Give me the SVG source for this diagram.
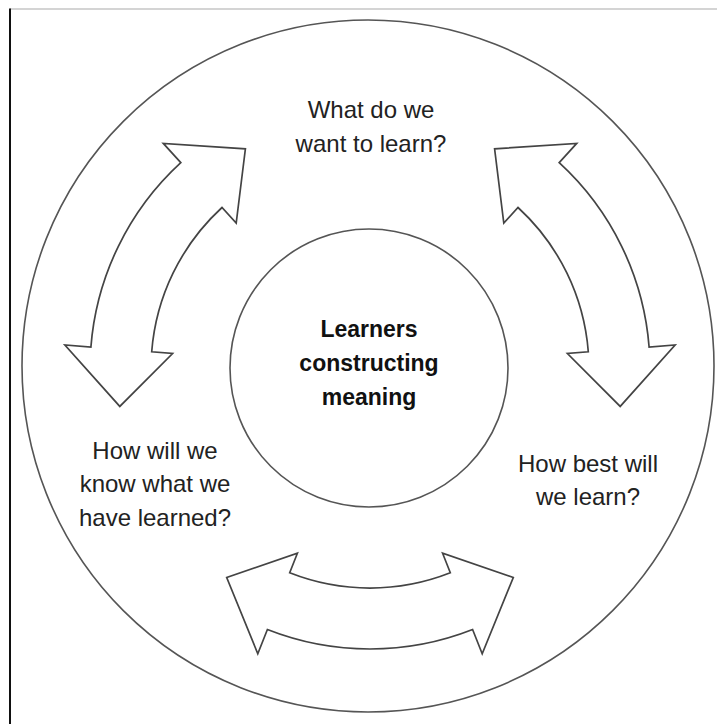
<svg xmlns="http://www.w3.org/2000/svg" width="717" height="724" viewBox="0 0 717 724">
  <style>
    .ring { fill: none; stroke: #555; stroke-width: 1.6; }
    .arrow { fill: #fff; stroke: #444; stroke-width: 1.7; stroke-linejoin: miter; }
    .lbl { font-family: "Liberation Sans", Arial, sans-serif; font-size: 24px; fill: #222; text-anchor: middle; }
    .core { font-family: "Liberation Sans", Arial, sans-serif; font-size: 23px; font-weight: bold; fill: #111; text-anchor: middle; }
  </style>
  <rect x="0" y="0" width="717" height="724" fill="#fff"/>
  <line x1="10" y1="9" x2="717" y2="9" stroke="#aaa" stroke-width="1.2"/>
  <line x1="10" y1="8.5" x2="10" y2="724" stroke="#111" stroke-width="2"/>

  <g id="outer-ring">
    <circle class="ring" cx="368" cy="366" r="346"/>
  </g>

  <g id="connectors">
    <path id="arrow-left" class="arrow" d="M180.8,162.6 L163.3,143.4 L245.4,148.8 L236.2,223.0 L222.0,207.5 A219,219 0 0 0 151.7,351.8 L172.6,353.5 L119.8,406.4 L64.9,345.0 L90.9,347.0 A280,280 0 0 1 180.8,162.6 Z"/>
    <path id="arrow-right" class="arrow" d="M559.2,162.6 L576.7,143.4 L494.6,148.8 L503.8,223.0 L518.0,207.5 A219,219 0 0 1 588.3,351.8 L567.4,353.5 L620.2,406.4 L675.1,345.0 L649.1,347.0 A280,280 0 0 0 559.2,162.6 Z"/>
    <path id="arrow-bottom" class="arrow" d="M267.4,629.5 L257.8,653.7 L226.7,577.5 L297.4,553.2 L289.7,572.8 A219,219 0 0 0 450.3,572.8 L442.6,553.2 L513.3,577.5 L482.2,653.7 L472.6,629.5 A280,280 0 0 1 267.4,629.5 Z"/>
  </g>

  <g id="center">
    <circle class="ring" cx="369" cy="368" r="139"/>
    <text class="core" x="369" y="337">Learners</text>
    <text class="core" x="369" y="371">constructing</text>
    <text class="core" x="369" y="405">meaning</text>
  </g>

  <g id="what">
    <text class="lbl" x="371" y="118">What do we</text>
    <text class="lbl" x="371" y="152">want to learn?</text>
  </g>

  <g id="how-best">
    <text class="lbl" x="588" y="472">How best will</text>
    <text class="lbl" x="588" y="505">we learn?</text>
  </g>

  <g id="how-know">
    <text class="lbl" x="155" y="459">How will we</text>
    <text class="lbl" x="155" y="492">know what we</text>
    <text class="lbl" x="155" y="526">have learned?</text>
  </g>
</svg>
